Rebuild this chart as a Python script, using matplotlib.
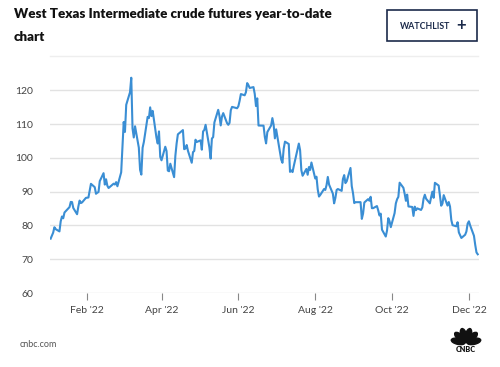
import numpy as np
import pandas as pd
import matplotlib.pyplot as plt
from matplotlib.patches import Rectangle, Ellipse

# WTI daily closes 2022
days = ["01-03","01-04","01-05","01-06","01-07","01-10","01-11","01-12","01-13","01-14",
        "01-18","01-19","01-20","01-21","01-24","01-25","01-26","01-27","01-28","01-31",
        "02-01","02-02","02-03","02-04","02-07","02-08","02-09","02-10","02-11","02-14",
        "02-15","02-16","02-17","02-18","02-22","02-23","02-24","02-25","02-28",
        "03-01","03-02","03-03","03-04","03-07","03-08","03-09","03-10","03-11","03-14",
        "03-15","03-16","03-17","03-18","03-21","03-22","03-23","03-24","03-25","03-28",
        "03-29","03-30","03-31",
        "04-01","04-04","04-05","04-06","04-07","04-08","04-11","04-12","04-13","04-14",
        "04-18","04-19","04-20","04-21","04-22","04-25","04-26","04-27","04-28","04-29",
        "05-02","05-03","05-04","05-05","05-06","05-09","05-10","05-11","05-12","05-13",
        "05-16","05-17","05-18","05-19","05-20","05-23","05-24","05-25","05-26","05-27","05-31",
        "06-01","06-02","06-03","06-06","06-07","06-08","06-09","06-10","06-13","06-14",
        "06-15","06-16","06-17","06-21","06-22","06-23","06-24","06-27","06-28","06-29","06-30",
        "07-01","07-05","07-06","07-07","07-08","07-11","07-12","07-13","07-14","07-15",
        "07-18","07-19","07-20","07-21","07-22","07-25","07-26","07-27","07-28","07-29",
        "08-01","08-02","08-03","08-04","08-05","08-08","08-09","08-10","08-11","08-12",
        "08-15","08-16","08-17","08-18","08-19","08-22","08-23","08-24","08-25","08-26",
        "08-29","08-30","08-31",
        "09-01","09-02","09-06","09-07","09-08","09-09","09-12","09-13","09-14","09-15",
        "09-16","09-19","09-20","09-21","09-22","09-23","09-26","09-27","09-28","09-29","09-30",
        "10-03","10-04","10-05","10-06","10-07","10-10","10-11","10-12","10-13","10-14",
        "10-17","10-18","10-19","10-20","10-21","10-24","10-25","10-26","10-27","10-28","10-31",
        "11-01","11-02","11-03","11-04","11-07","11-08","11-09","11-10","11-11","11-14",
        "11-15","11-16","11-17","11-18","11-21","11-22","11-23","11-25","11-28","11-29","11-30",
        "12-01","12-02","12-05","12-06","12-07","12-08"]

prices = [76.08,76.99,77.85,79.46,78.90,78.23,81.22,82.64,82.12,83.82,
          85.43,86.96,86.90,85.14,83.31,85.60,87.35,86.61,86.82,88.15,
          88.20,88.26,90.27,92.31,91.32,89.36,89.66,89.88,93.10,95.46,
          92.07,93.66,91.76,91.07,92.35,92.10,92.81,91.59,95.72,
          103.41,110.60,107.67,115.68,119.40,123.70,108.70,106.02,109.33,103.01,
          96.44,95.04,102.98,104.70,112.12,111.76,114.93,112.34,113.90,105.96,
          104.24,107.82,100.28,
          99.27,103.28,102.00,96.23,96.03,98.26,94.29,100.60,104.25,106.95,
          108.21,102.56,102.75,103.79,102.07,98.54,101.70,102.02,105.36,104.69,
          105.17,102.41,107.81,108.26,109.77,103.09,99.76,105.71,106.13,110.49,
          114.20,112.40,109.59,112.21,113.23,110.29,109.77,110.33,114.09,115.07,114.67,
          115.26,116.87,118.87,118.50,119.41,122.11,121.51,120.67,120.93,118.93,
          115.31,117.59,109.56,109.52,106.19,104.27,107.62,109.57,111.76,109.78,105.76,
          108.43,99.50,98.53,102.73,104.79,104.09,95.84,96.30,95.78,97.59,
          102.60,104.22,102.26,96.35,94.70,96.70,94.98,97.26,96.42,98.62,
          93.89,94.42,90.66,88.54,89.01,90.76,90.50,91.93,94.34,92.09,
          89.41,86.53,88.11,90.50,90.77,90.23,93.74,94.89,92.52,93.06,
          97.01,91.64,89.55,
          86.61,86.87,86.88,81.94,83.54,86.79,87.78,87.31,88.48,85.10,
          85.11,85.73,84.45,82.94,83.49,78.74,76.71,78.50,82.15,81.23,79.49,
          83.63,86.52,87.76,88.45,92.64,91.13,89.35,87.27,89.11,85.61,
          85.46,82.82,85.55,84.51,85.05,84.58,85.32,87.91,89.08,87.90,86.53,
          88.37,90.00,88.17,92.61,91.79,88.91,85.83,86.47,88.96,85.87,
          86.92,85.59,81.64,80.08,79.73,80.95,77.94,76.28,77.24,78.20,80.55,
          81.22,79.98,76.93,74.25,72.01,71.46]

y_ticks = [60, 70, 80, 90, 100, 110, 120]
month_ticks = ["2022-02-01", "2022-04-01", "2022-06-01", "2022-08-01", "2022-10-01", "2022-12-01"]
month_labels = ["Feb '22", "Apr '22", "Jun '22", "Aug '22", "Oct '22", "Dec '22"]

dates = pd.to_datetime(["2022-" + d for d in days])

plt.rcParams['font.family'] = ['Lato', 'DejaVu Sans']

fig = plt.figure(figsize=(5, 3.67), dpi=100)
ax = fig.add_axes([0.1, 0.2016, 0.858, 0.617])

for v in y_ticks:
    ax.axhline(v, color='#e2e2e2', lw=1.0, zorder=0)
ax.plot(dates, prices, color='#3a8ed4', lw=1.5, zorder=3)

ax.set_ylim(60, 127)
ax.set_xlim(pd.Timestamp("2022-01-02 12:00"), pd.Timestamp("2022-12-09"))
ax.set_yticks(y_ticks)
ax.set_yticklabels([str(v) for v in y_ticks], fontsize=7.5, color='#444444')
ax.set_xticks(pd.to_datetime(month_ticks))
ax.set_xticklabels(month_labels, fontsize=7.5, color='#444444')
ax.tick_params(axis='y', length=0, pad=12)
ax.tick_params(axis='x', length=5, width=0.8, color='#888888', pad=4, direction='out')
for s in ax.spines.values():
    s.set_visible(False)

# header
fig.text(0.028, 0.962, "West Texas Intermediate crude futures year-to-date",
         fontsize=9.6, fontweight='heavy', color='#111111', va='center')
fig.text(0.028, 0.899, "chart", fontsize=9.6, fontweight='heavy', color='#111111', va='center')
fig.patches.append(Rectangle((0.774, 0.888), 0.18, 0.085, transform=fig.transFigure,
                             fill=False, edgecolor='#1b2a4a', lw=1.2))
fig.text(0.80, 0.929, "WATCHLIST", fontsize=6.3, fontweight='bold', color='#1b2a4a', va='center')
fig.text(0.923, 0.932, "+", fontsize=12, fontweight='bold', color='#1b2a4a', va='center', ha='center')
fig.add_artist(plt.Line2D([0.1, 0.956], [0.847, 0.847], color='#eeeeee', lw=1))

# footer
fig.text(0.04, 0.06, "cnbc.com", fontsize=6.5, color='#555555', va='center')

# peacock logo, drawn in pixel units
lg = fig.add_axes([0.9, 0.038, 0.064, 0.0736])
lg.set_xlim(450, 482)
lg.set_ylim(353, 326)
lg.axis('off')
for ang in [12, 43, 74, 106, 137, 168]:
    r = np.radians(ang)
    lg.add_patch(Ellipse((466 + 8 * np.cos(r), 343 - 8 * np.sin(r)), 6, 14,
                         angle=90 - ang, color='#111111'))
lg.text(466, 349.5, "CNBC", fontsize=5.2, fontweight='heavy', color='#111111',
        ha='center', va='center')

plt.savefig("out.png", dpi=100)
